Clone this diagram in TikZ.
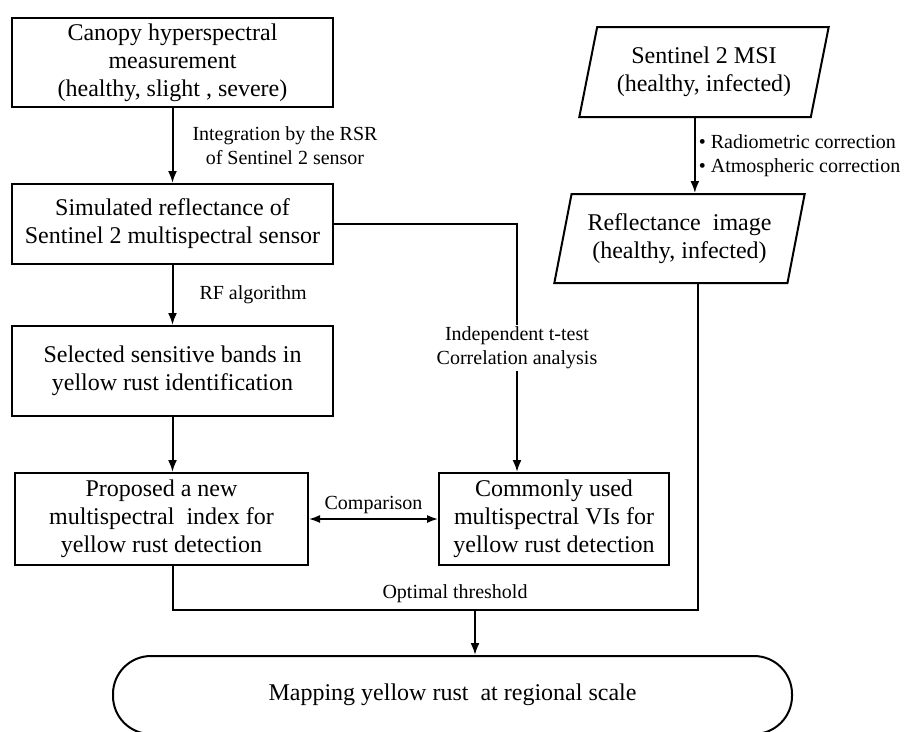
\documentclass[tikz,border=0pt]{standalone}
\usepackage{fontspec}
\setmainfont{Liberation Serif}
\usetikzlibrary{arrows.meta,positioning,shapes.geometric}
\tikzset{
 box/.style={draw,line width=2pt,align=center,inner sep=2pt,
   font=\fontsize{24}{28}\selectfont},
 io/.style={box,trapezium,trapezium left angle=74.5,trapezium right angle=105.5,
   trapezium stretches=true},
 term/.style={box,rounded corners=38pt},
 arr/.style={-{Latex[length=12pt,width=9pt]},line width=2pt},
 dblarr/.style={{Latex[length=11pt,width=8pt]}-{Latex[length=11pt,width=8pt]},line width=1.6pt},
 link/.style={line width=2pt},
 lbl/.style={font=\fontsize{20}{24}\selectfont,align=center,inner sep=2pt}
}
\begin{document}
\begin{tikzpicture}[x=1pt,y=-1pt]
\useasboundingbox (0,0) rectangle (909,731);
% left column
\node[box,minimum width=321pt,minimum height=89pt] (A) at (172.5,62.5) {Canopy hyperspectral\\measurement\\(healthy, slight , severe)};
\node[box,minimum width=321pt,minimum height=80pt,below=75pt of A] (B) {Simulated reflectance of\\Sentinel 2 multispectral sensor};
\node[box,minimum width=321pt,minimum height=90pt,below=60pt of B] (C) {Selected sensitive bands in\\yellow rust identification};
\node[box,minimum width=293pt,minimum height=92pt,below=55pt of C.south,xshift=-11pt] (E) {Proposed a new\\multispectral~ index for\\yellow rust detection};
\node[box,minimum width=230pt,minimum height=92pt,right=129pt of E] (D) {Commonly used\\multispectral VIs for\\yellow rust detection};
% right column
\node[io,minimum width=250pt,minimum height=90pt] (F) at (704,72) {Sentinel 2 MSI\\(healthy, infected)};
\node[io,minimum width=251pt,minimum height=89pt,below=75pt of F.south,xshift=-24.5pt] (G) {Reflectance~ image\\(healthy, infected)};
% result
\node[term,minimum width=679pt,minimum height=78pt] (H) at (452.5,695) {Mapping yellow rust~ at regional scale};
\coordinate (tbend) at (517,0);
\coordinate (ljoin) at (172.5,610);
\coordinate (rjoin) at (698,610);
\coordinate (mjoin) at (475,610);
\draw[arr] (A) -- node[lbl,right=17pt]{Integration by the RSR\\of Sentinel 2 sensor} (B);
\draw[arr] (B) -- node[lbl,right=24pt]{RF algorithm} (C);
\draw[arr] (C.south) -- (C.south |- E.north);
\draw[arr] (B.east) -| node[lbl,fill=white,pos=0.75]{Independent t-test\\Correlation analysis} (tbend |- D.north);
\draw[dblarr] (E) -- node[lbl,above=2pt]{Comparison} (D);
\draw[arr] (F.bottom side) -- node[lbl,right=1pt,align=left]{\textbullet\ Radiometric correction\\\textbullet\ Atmospheric correction} (F.bottom side |- G.north);
\draw[link] (E.south -| ljoin) |- (rjoin) -- (G.south -| rjoin);
\draw[arr] (mjoin) -- (mjoin |- H.north);
\node[lbl] (opt) at (455,594) {Optimal threshold};
\end{tikzpicture}
\end{document}
